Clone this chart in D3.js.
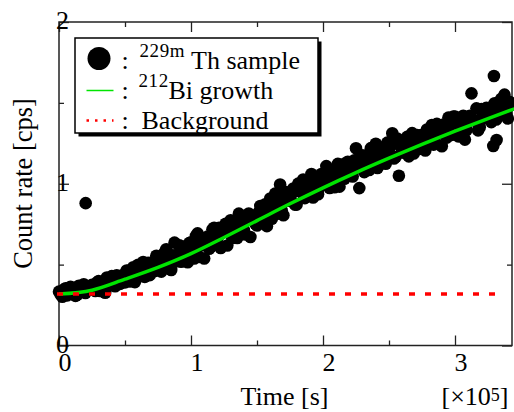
<!DOCTYPE html>
<html>
<head>
<meta charset="utf-8">
<script src="https://cdn.jsdelivr.net/npm/d3@7"></script>
</head>
<body style="margin:0">
<svg id="chart" width="514" height="412"></svg>
<script>
// Measured count rate of the 229mTh sample [cps] against elapsed time [s]
const timeSec = [
  0, 2500, 5000, 7500, 10000, 12500, 15000, 17500, 20000, 20200, 22500,
  25000, 27500, 30000, 32500, 35000, 37500, 40000, 42500, 45000, 47500,
  50000, 52500, 55000, 57500, 60000, 62500, 65000, 67500, 70000, 72500,
  75000, 77500, 80000, 82500, 85000, 87500, 90000, 92500, 95000, 97500,
  100000, 102500, 105000, 107500, 110000, 112500, 115000, 117500, 120000, 122500,
  125000, 127500, 130000, 132500, 135000, 137500, 140000, 142500, 145000, 147500,
  150000, 152500, 155000, 157500, 160000, 162500, 165000, 167500, 170000, 172500,
  175000, 177500, 180000, 182500, 185000, 187500, 190000, 192500, 195000, 197500,
  200000, 202500, 205000, 207500, 210000, 212500, 215000, 217500, 220000, 222500,
  225000, 227500, 230000, 232500, 235000, 237500, 240000, 242500, 245000, 247500,
  250000, 252500, 255000, 257500, 260000, 262500, 265000, 267500, 270000, 272500,
  275000, 277500, 280000, 282500, 285000, 287500, 290000, 292500, 295000, 297500,
  300000, 302500, 305000, 307500, 310000, 312500, 315000, 317500, 320000, 322500,
  325000, 327500, 329000, 329500, 330000, 331500, 332500, 335000, 337500, 340000, 342500,
  1250, 3750, 6250, 8750, 11250, 13750, 16250, 18750, 21250, 23750,
  26250, 28750, 31250, 33750, 36250, 38750, 41250, 43750, 46250, 48750,
  51250, 53750, 56250, 58750, 61250, 63750, 66250, 68750, 71250, 73750,
  76250, 78750, 81250, 83750, 86250, 88750, 91250, 93750, 96250, 98750,
  101250, 103750, 106250, 108750, 111250, 113750, 116250, 118750, 121250, 123750,
  126250, 128750, 131250, 133750, 136250, 138750, 141250, 143750, 146250, 148750,
  151250, 153750, 156250, 158750, 161250, 163750, 166250, 168750, 171250, 173750,
  176250, 178750, 181250, 183750, 186250, 188750, 191250, 193750, 196250, 198750,
  201250, 203750, 206250, 208750, 211250, 213750, 216250, 218750, 221250, 223750,
  226250, 228750, 231250, 233750, 236250, 238750, 241250, 243750, 246250, 248750,
  251250, 253750, 256250, 258750, 261250, 263750, 266250, 268750, 271250, 273750,
  276250, 278750, 281250, 283750, 286250, 288750, 291250, 293750, 296250, 298750,
  301250, 303750, 306250, 308750, 311250, 313750, 316250, 318750, 321250, 323750,
  326250, 328750, 331250, 333750, 336250, 338750, 341250
];
const countRate = [
  0.333, 0.301, 0.353, 0.326, 0.354, 0.307, 0.369, 0.347, 0.325, 0.880, 0.362,
  0.375, 0.337, 0.398, 0.355, 0.326, 0.398, 0.429, 0.366, 0.427, 0.399,
  0.390, 0.462, 0.435, 0.392, 0.499, 0.452, 0.424, 0.511, 0.493, 0.461,
  0.523, 0.457, 0.575, 0.524, 0.467, 0.636, 0.564, 0.518, 0.611, 0.515,
  0.638, 0.538, 0.693, 0.618, 0.538, 0.673, 0.608, 0.728, 0.658, 0.603,
  0.703, 0.618, 0.774, 0.709, 0.665, 0.795, 0.715, 0.791, 0.671, 0.787,
  0.742, 0.862, 0.808, 0.738, 0.909, 0.864, 0.814, 0.995, 0.805, 0.896,
  0.896, 0.971, 0.871, 0.966, 1.026, 0.931, 0.980, 0.915, 1.025, 0.980,
  1.025, 1.109, 0.974, 1.078, 1.043, 0.982, 1.121, 1.056, 1.110, 1.045,
  1.219, 0.973, 1.127, 1.176, 1.085, 1.174, 1.247, 1.141, 1.225, 1.124,
  1.198, 1.312, 1.165, 1.049, 1.262, 1.221, 1.169, 1.313, 1.261, 1.215,
  1.303, 1.206, 1.289, 1.363, 1.256, 1.354, 1.232, 1.345, 1.409, 1.302,
  1.415, 1.293, 1.396, 1.273, 1.391, 1.559, 1.392, 1.330, 1.462, 1.405,
  1.448, 1.381, 1.233, 1.666, 1.498, 1.270, 1.416, 1.525, 1.551, 1.403, 1.486,
  0.315, 0.347, 0.310, 0.363, 0.341, 0.313, 0.356, 0.379, 0.341, 0.359,
  0.359, 0.390, 0.337, 0.393, 0.420, 0.371, 0.403, 0.434, 0.381, 0.437,
  0.464, 0.396, 0.484, 0.456, 0.428, 0.516, 0.468, 0.435, 0.517, 0.555,
  0.493, 0.546, 0.595, 0.483, 0.557, 0.520, 0.619, 0.587, 0.521, 0.634,
  0.593, 0.678, 0.548, 0.663, 0.643, 0.598, 0.718, 0.648, 0.728, 0.703,
  0.753, 0.704, 0.664, 0.760, 0.815, 0.750, 0.686, 0.816, 0.792, 0.752,
  0.822, 0.778, 0.873, 0.839, 0.784, 0.939, 0.895, 0.835, 0.951, 0.896,
  0.936, 0.871, 1.001, 0.946, 0.911, 1.006, 1.060, 0.975, 0.935, 1.060,
  0.995, 1.059, 1.039, 0.978, 1.123, 1.082, 1.031, 1.136, 1.090, 1.145,
  1.104, 1.178, 1.072, 1.161, 1.220, 1.133, 1.097, 1.206, 1.185, 1.254,
  1.238, 1.156, 1.280, 1.228, 1.192, 1.290, 1.244, 1.187, 1.301, 1.259,
  1.257, 1.335, 1.309, 1.242, 1.370, 1.313, 1.366, 1.285, 1.368, 1.416,
  1.379, 1.352, 1.420, 1.332, 1.420, 1.393, 1.466, 1.349, 1.431, 1.469,
  1.427, 1.480, 1.397, 1.470, 1.522, 1.435, 1.507
];

// Fitted 212Bi ingrowth curve (on top of the background level)
const curveTimeSec = [0, 25000, 50000, 75000, 100000, 125000, 150000, 175000,
  200000, 225000, 250000, 275000, 300000, 325000, 345000];
const curveRate = [0.318, 0.342, 0.410, 0.483, 0.568, 0.668, 0.772, 0.876,
  0.975, 1.069, 1.158, 1.243, 1.325, 1.403, 1.463];

// Constant background level and the span it is drawn over
const backgroundRate = 0.318;
const backgroundSpan = [0, 335400];

// Axis ticks and labels
const xMajorTicks = [0, 100000, 200000, 300000];
const xMinorTicks = [50000, 150000, 250000];
const xTickLabels = ["0", "1", "2", "3"];
const yMajorTicks = [0, 1, 2];
const yMinorTicks = [0.5, 1.5];
const yTickLabels = ["0", "1", "2"];

const svg = d3.select("#chart");
const L = 59, R = 512, T = 22, B = 345.5;

const x = d3.scaleLinear().domain([0, 343180]).range([L, R]);
const y = d3.scaleLinear().domain([0, 2]).range([B, T]);

const frameColor = "#222";

// Inward-pointing ticks on all four sides (no labels from the axis itself)
function tickAxis(axis, tx, ty, values, size) {
  const g = svg.append("g")
    .attr("transform", `translate(${tx},${ty})`)
    .call(axis.tickValues(values).tickSize(-size).tickFormat(""));
  g.select(".domain").remove();
  g.selectAll("text").remove();
  g.attr("font-family", null).attr("font-size", null);
  g.selectAll(".tick line").attr("stroke", frameColor).attr("stroke-width", 1.3);
}
tickAxis(d3.axisBottom(x), 0, B, xMajorTicks, 10);
tickAxis(d3.axisBottom(x), 0, B, xMinorTicks, 5);
tickAxis(d3.axisTop(x), 0, T, xMajorTicks, 10);
tickAxis(d3.axisTop(x), 0, T, xMinorTicks, 5);
tickAxis(d3.axisLeft(y), L, 0, yMajorTicks, 10);
tickAxis(d3.axisLeft(y), L, 0, yMinorTicks, 5);
tickAxis(d3.axisRight(y), R, 0, yMajorTicks, 10);
tickAxis(d3.axisRight(y), R, 0, yMinorTicks, 5);

svg.append("rect")
  .attr("x", L).attr("y", T).attr("width", R - L).attr("height", B - T)
  .attr("fill", "none").attr("stroke", frameColor).attr("stroke-width", 1.5);

// Data points
const points = timeSec.map((t, i) => ({ t, v: countRate[i] }));
svg.append("g").selectAll("circle")
  .data(points).join("circle")
  .attr("cx", d => x(d.t)).attr("cy", d => y(d.v)).attr("r", 6.3)
  .attr("fill", "#000");

// Growth curve
const curvePts = curveTimeSec.map((t, i) => [t, curveRate[i]]);
svg.append("path")
  .datum(curvePts)
  .attr("d", d3.line().x(d => x(d[0])).y(d => y(d[1])).curve(d3.curveMonotoneX))
  .attr("fill", "none").attr("stroke", "#00e400").attr("stroke-width", 3.5);

// Background level
svg.append("line")
  .attr("x1", x(backgroundSpan[0]) - 2).attr("x2", x(backgroundSpan[1]))
  .attr("y1", y(backgroundRate)).attr("y2", y(backgroundRate))
  .attr("stroke", "#ff0000").attr("stroke-width", 3.5)
  .attr("stroke-dasharray", "6,10");

// Serif text helper
function label(parent, size) {
  return parent.append("text")
    .attr("font-size", size)
    .style("font-family", '"Liberation Serif"');
}

// Tick labels
svg.append("g").selectAll("text")
  .data(xMajorTicks).join("text")
  .attr("x", d => x(d) + 6).attr("y", 371)
  .attr("text-anchor", "middle").attr("font-size", 26)
  .style("font-family", '"Liberation Serif"')
  .text((d, i) => xTickLabels[i]);
svg.append("g").selectAll("text")
  .data(yMajorTicks).join("text")
  .attr("x", L + 3.5).attr("y", d => y(d) + 7)
  .attr("text-anchor", "middle").attr("font-size", 26)
  .style("font-family", '"Liberation Serif"')
  .text((d, i) => yTickLabels[i]);

// Axis titles
label(svg, 26.5)
  .attr("transform", "translate(32,183.5) rotate(-90)")
  .attr("text-anchor", "middle")
  .text("Count rate [cps]");
label(svg, 26)
  .attr("x", 284.5).attr("y", 405)
  .attr("text-anchor", "middle")
  .text("Time [s]");
const mult = label(svg, 26).attr("x", 441.5).attr("y", 405);
mult.append("tspan").text("[×10");
mult.append("tspan").attr("font-size", 18).attr("dy", -4.5).text("5");
mult.append("tspan").attr("dy", 4.5).text("]");

// Legend
const lg = svg.append("g");
lg.append("rect").attr("x", 78.5).attr("y", 41.5).attr("width", 243).attr("height", 95)
  .attr("fill", "#000");
lg.append("rect").attr("x", 75).attr("y", 38).attr("width", 243).attr("height", 95)
  .attr("fill", "#fff").attr("stroke", "#000").attr("stroke-width", 1.5);

lg.append("circle").attr("cx", 99).attr("cy", 58.5).attr("r", 11.5).attr("fill", "#000");
lg.append("line").attr("x1", 86.5).attr("x2", 113.5).attr("y1", 90.5).attr("y2", 90.5)
  .attr("stroke", "#00e400").attr("stroke-width", 1.5);
lg.append("line").attr("x1", 86.5).attr("x2", 113.5).attr("y1", 120.5).attr("y2", 120.5)
  .attr("stroke", "#ff0000").attr("stroke-width", 2.5).attr("stroke-dasharray", "2.5,6");

const rows = [
  { base: 68.5, sup: "229m", supX: 139.5, main: "Th sample", mainX: 191 },
  { base: 98.5, sup: "212", supX: 138.5, main: "Bi growth", mainX: 168.5 },
  { base: 128.5, sup: "", supX: 0, main: "Background", mainX: 141.5 }
];
rows.forEach(r => {
  label(lg, 26).attr("x", 121.5).attr("y", r.base).text(":");
  if (r.sup) {
    label(lg, 19).attr("x", r.supX).attr("y", r.base - 11.5)
      .attr("letter-spacing", 0.6).text(r.sup);
  }
  label(lg, 26).attr("x", r.mainX).attr("y", r.base).text(r.main);
});
</script>
</body>
</html>
